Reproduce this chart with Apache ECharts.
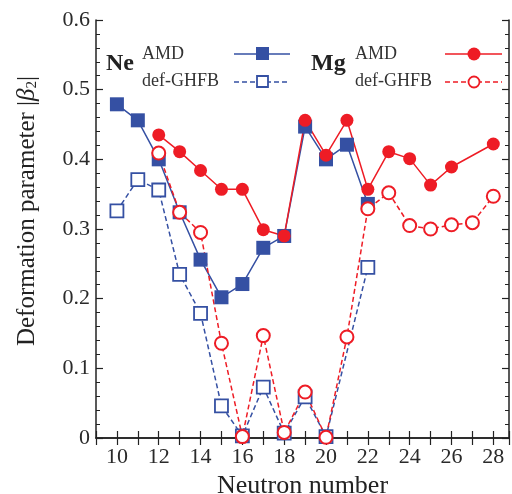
<!DOCTYPE html>
<html>
<head>
<meta charset="utf-8">
<script src="https://cdn.jsdelivr.net/npm/echarts@6/dist/echarts.min.js"></script>
<style>
html,body{margin:0;padding:0;background:#fff;}
#chart{width:512px;height:494px;}
</style>
</head>
<body>
<div id="chart"></div>
<script>
// 数据：中子数与形变参数
var neAmdN = [10, 11, 12, 13, 14, 15, 16, 17, 18, 19, 20, 21, 22];
var neAmd = [0.479, 0.456, 0.400, 0.324, 0.256, 0.202, 0.221, 0.273, 0.290, 0.447, 0.400, 0.421, 0.336];
var neGhfbN = [10, 11, 12, 13, 14, 15, 16, 17, 18, 19, 20, 22];
var neGhfb = [0.326, 0.371, 0.356, 0.235, 0.179, 0.046, 0.003, 0.073, 0.007, 0.059, 0.002, 0.245];
var mgAmdN = [12, 13, 14, 15, 16, 17, 18, 19, 20, 21, 22, 23, 24, 25, 26, 28];
var mgAmd = [0.435, 0.411, 0.384, 0.357, 0.357, 0.299, 0.290, 0.456, 0.406, 0.456, 0.357, 0.411, 0.401, 0.363, 0.389, 0.422];
var mgGhfbN = [12, 13, 14, 15, 16, 17, 18, 19, 20, 21, 22, 23, 24, 25, 26, 27, 28];
var mgGhfb = [0.409, 0.324, 0.295, 0.136, 0.002, 0.147, 0.008, 0.066, 0.001, 0.145, 0.329, 0.352, 0.305, 0.300, 0.306, 0.309, 0.347];

var blue = '#3550a3';
var red = '#ee1c25';
var serif = '"Liberation Serif", "DejaVu Serif", serif';

function pairs(xs, ys) {
    return xs.map(function (x, i) { return [x, ys[i]]; });
}

var myChart = echarts.init(document.getElementById('chart'));

// 坐标轴公共样式
var axisLine = {lineStyle: {color: '#222', width: 1.5}};
var tick = {inside: true, length: 7, lineStyle: {color: '#222', width: 1.2}};
var minor = {show: true, splitNumber: 5, length: 4, lineStyle: {color: '#222', width: 1}};

var option = {
    animation: false,
    grid: {left: 96, top: 20, right: 3, bottom: 56, containLabel: false, outerBoundsMode: 'none'},
    xAxis: [{
        type: 'value', min: 9, max: 28.75, interval: 1,
        name: 'Neutron number', nameLocation: 'middle', nameGap: 27,
        nameTextStyle: {fontFamily: serif, fontSize: 26, color: '#222'},
        axisLine: axisLine, axisTick: tick, splitLine: {show: false},
        axisLabel: {
            fontFamily: serif, fontSize: 22, color: '#2a2a2a', margin: 8,
            formatter: function (v) { return v % 2 === 0 ? String(v) : ''; }
        }
    }, {
        type: 'value', min: 9, max: 28.75, interval: 1, position: 'top',
        axisLine: axisLine, axisTick: tick, axisLabel: {show: false}, splitLine: {show: false}
    }],
    yAxis: [{
        type: 'value', min: 0, max: 0.6, interval: 0.1,
        name: 'Deformation parameter |{i|β}{s|2}|', nameLocation: 'middle', nameGap: 56,
        nameTextStyle: {
            fontFamily: serif, fontSize: 25, color: '#222', padding: [0, 0, 0, 36],
            rich: {
                i: {fontFamily: serif, fontSize: 25, fontStyle: 'italic', color: '#222'},
                s: {fontFamily: serif, fontSize: 15, color: '#222', verticalAlign: 'bottom', padding: [10, 0, 0, 0]}
            }
        },
        axisLine: axisLine, axisTick: tick, minorTick: minor, splitLine: {show: false},
        axisLabel: {
            fontFamily: serif, fontSize: 22, color: '#2a2a2a', margin: 6,
            formatter: function (v) { return v === 0 ? '0' : v.toFixed(1); }
        }
    }, {
        type: 'value', min: 0, max: 0.6, interval: 0.1, position: 'right',
        axisLine: axisLine, axisTick: tick, minorTick: minor,
        axisLabel: {show: false}, splitLine: {show: false}
    }],
    series: [{
        name: 'Ne def-GHFB', type: 'line', data: pairs(neGhfbN, neGhfb),
        symbol: 'rect', symbolSize: 13,
        lineStyle: {color: blue, width: 1.5, type: [5, 3]},
        itemStyle: {color: '#fff', borderColor: blue, borderWidth: 1.8}
    }, {
        name: 'Ne AMD', type: 'line', data: pairs(neAmdN, neAmd),
        symbol: 'rect', symbolSize: 14,
        lineStyle: {color: blue, width: 1.5},
        itemStyle: {color: blue}
    }, {
        name: 'Mg def-GHFB', type: 'line', data: pairs(mgGhfbN, mgGhfb),
        symbol: 'emptyCircle', symbolSize: 13,
        lineStyle: {color: red, width: 1.5, type: [5, 3]},
        itemStyle: {color: red, borderColor: red, borderWidth: 1.8}
    }, {
        name: 'Mg AMD', type: 'line', data: pairs(mgAmdN, mgAmd),
        symbol: 'circle', symbolSize: 13,
        lineStyle: {color: red, width: 1.5},
        itemStyle: {color: red}
    }],
    // 图例（文字在左，线和符号在右）
    graphic: [
        {type: 'text', left: 106, top: 52, style: {text: 'Ne', font: 'bold 24px ' + serif, fill: '#222'}},
        {type: 'text', left: 142, top: 45, style: {text: 'AMD', font: '18px ' + serif, fill: '#333'}},
        {type: 'text', left: 142, top: 72, style: {text: 'def-GHFB', font: '18px ' + serif, fill: '#333'}},
        {type: 'line', shape: {x1: 234, y1: 54, x2: 290, y2: 54}, style: {stroke: blue, lineWidth: 1.5}},
        {type: 'rect', shape: {x: 256, y: 47, width: 13, height: 13}, style: {fill: blue}},
        {type: 'line', shape: {x1: 234, y1: 82, x2: 290, y2: 82}, style: {stroke: blue, lineWidth: 1.5, lineDash: [5, 3]}},
        {type: 'rect', shape: {x: 257, y: 76, width: 11, height: 11}, style: {fill: '#fff', stroke: blue, lineWidth: 1.8}},
        {type: 'text', left: 311, top: 52, style: {text: 'Mg', font: 'bold 24px ' + serif, fill: '#222'}},
        {type: 'text', left: 355, top: 45, style: {text: 'AMD', font: '18px ' + serif, fill: '#333'}},
        {type: 'text', left: 355, top: 72, style: {text: 'def-GHFB', font: '18px ' + serif, fill: '#333'}},
        {type: 'line', shape: {x1: 445, y1: 54, x2: 502, y2: 54}, style: {stroke: red, lineWidth: 1.5}},
        {type: 'circle', shape: {cx: 474, cy: 54, r: 6.5}, style: {fill: red}},
        {type: 'line', shape: {x1: 445, y1: 82, x2: 502, y2: 82}, style: {stroke: red, lineWidth: 1.5, lineDash: [5, 3]}},
        {type: 'circle', shape: {cx: 474, cy: 82, r: 5.5}, style: {fill: '#fff', stroke: red, lineWidth: 1.8}}
    ]
};
myChart.setOption(option);
</script>
</body>
</html>
